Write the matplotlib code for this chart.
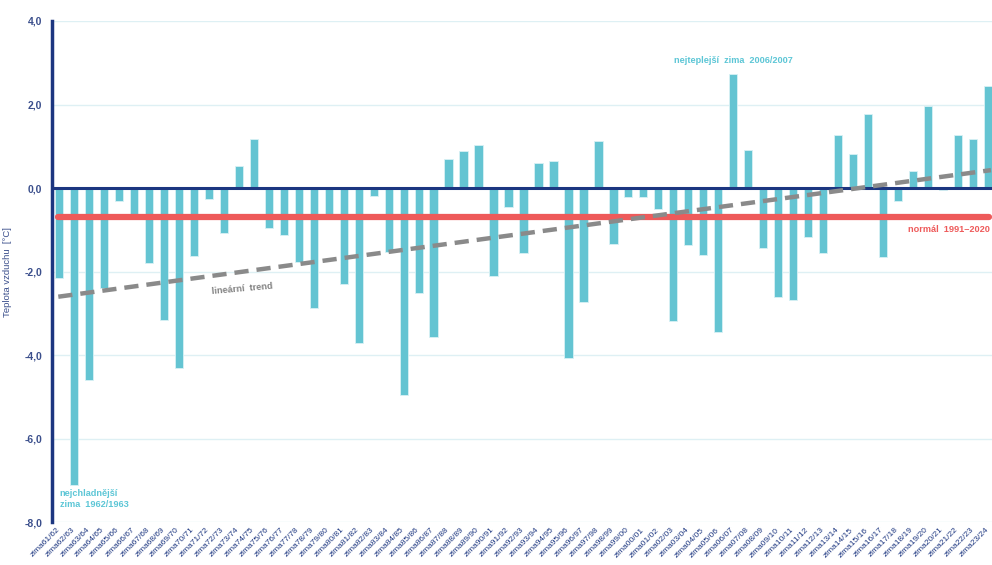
import matplotlib
matplotlib.use("Agg")
import matplotlib.pyplot as plt
import matplotlib.transforms as mtransforms
import numpy as np

plt.rcParams['font.family'] = ['Liberation Sans', 'DejaVu Sans']

# Winter seasons 1961/62 .. 2023/24
winters = [f"zima{str(y % 100).zfill(2)}/{str((y + 1) % 100).zfill(2)}" for y in range(1961, 2024)]

# Winter air temperature [°C]
temps = [-2.15, -7.1, -4.6, -2.4, -0.32, -0.65, -1.8, -3.15, -4.3, -1.62,
         -0.26, -1.08, 0.54, 1.17, -0.96, -1.12, -1.76, -2.87, -0.68, -2.3,
         -3.7, -0.2, -1.52, -4.96, -2.5, -3.56, 0.7, 0.9, 1.02, -2.1,
         -0.46, -1.56, 0.61, 0.66, -4.06, -2.72, 1.13, -1.33, -0.22, -0.22,
         -0.49, -3.19, -1.37, -1.6, -3.44, 2.74, 0.91, -1.43, -2.6, -2.69,
         -1.16, -1.55, 1.27, 0.81, 1.77, -1.65, -0.3, 0.4, 1.97, -0.05,
         1.27, 1.17, 2.44]

normal_1991_2020 = -0.7
trend_start, trend_end = -2.6, 0.43

y_ticks = [4, 2, 0, -2, -4, -6, -8]
y_tick_labels = ["4,0", "2,0", "0,0", "-2,0", "-4,0", "-6,0", "-8,0"]

bar_color = "#64c4d2"
navy = "#1c3680"
label_color = "#3b4f8c"
red = "#ee5a5a"

fig = plt.figure(figsize=(9.92, 5.65), dpi=100)
ax = fig.add_axes([52 / 992, 1 - 522.3 / 565, 1 - 52 / 992, (522.3 - 21) / 565])

x = np.arange(len(winters))
ax.set_xlim(-0.47, len(winters) - 1 + 0.27)
ax.set_ylim(-8, 4)

ax.yaxis.grid(True, color="#def0f4", linewidth=1.0)
ax.set_axisbelow(True)

ax.bar(x, temps, width=0.55, color=bar_color, edgecolor="#d8f1f5", linewidth=0.6, zorder=2)

ax.axhline(0, color=navy, linewidth=2.2, zorder=3)
ax.plot([x[0] - 0.1, x[-1] + 0.1], [normal_1991_2020, normal_1991_2020],
        color=red, linewidth=4.5, solid_capstyle="round", zorder=4)
ax.plot([x[0] - 0.05, x[-1] + 0.2], [trend_start, trend_end],
        color="#8a8a8a", linewidth=3.2, linestyle=(0, (3.2, 1.8)), zorder=5)

for s in ["top", "right", "bottom"]:
    ax.spines[s].set_visible(False)
ax.spines["left"].set_color(navy)
ax.spines["left"].set_linewidth(2.5)

ax.set_yticks(y_ticks)
ax.set_yticklabels(y_tick_labels, fontsize=7.5, color=label_color, fontweight="bold")
ax.tick_params(axis="y", length=0, pad=7)
ax.set_xticks(x)
ax.set_xticklabels(winters, rotation=45, ha="right", rotation_mode="anchor",
                   fontsize=6.0, color=navy)
ax.tick_params(axis="x", length=0, pad=3)
shift = mtransforms.ScaledTranslation(-3 / 100, 0, fig.dpi_scale_trans)
for lbl in ax.get_xticklabels():
    lbl.set_transform(lbl.get_transform() + shift)

ax.set_ylabel("Teplota vzduchu  [°C]", fontsize=6.8, color=label_color, labelpad=9)

ax.text(45.0, 2.95, "nejteplejší  zima  2006/2007", fontsize=6.6, fontweight="bold",
        color="#5cc6d6", ha="center", va="bottom")
ax.text(0.05, -7.2, "nejchladnější\nzima  1962/1963", fontsize=6.6, fontweight="bold",
        color="#5cc6d6", ha="left", va="top", linespacing=1.35)
ax.text(62.1, -0.88, "normál  1991–2020", fontsize=6.6, fontweight="bold",
        color=red, ha="right", va="top")
ax.text(10.2, -2.4, "lineární  trend", fontsize=6.6, fontweight="bold",
        color="#808080", ha="left", va="center", rotation=5)

fig.savefig("out.png", dpi=100)
